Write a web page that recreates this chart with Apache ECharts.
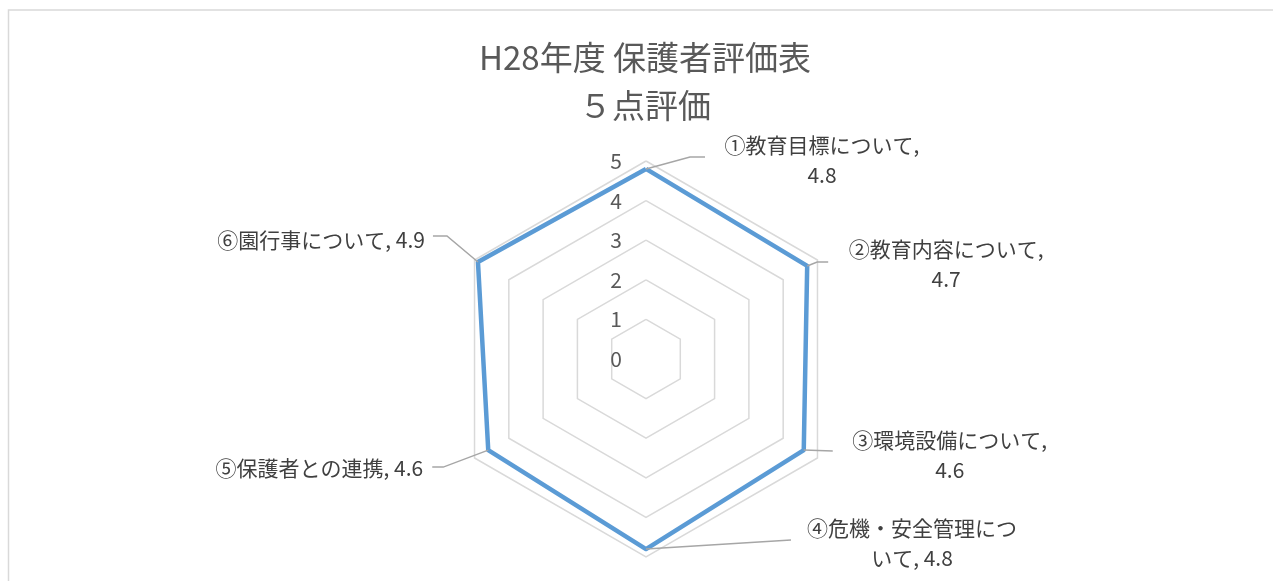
<!DOCTYPE html>
<html>
<head>
<meta charset="utf-8">
<script src="https://cdn.jsdelivr.net/npm/echarts@6/dist/echarts.min.js"></script>
<style>
  html, body { margin: 0; padding: 0; background: #fff; }
  #main { width: 1273px; height: 581px; }
</style>
</head>
<body>
<div id="main"></div>
<script>
// 評価項目と平均点
var categories = ['①教育目標について', '②教育内容について', '③環境設備について', '④危機・安全管理について', '⑤保護者との連携', '⑥園行事について'];
var scores = [4.8, 4.7, 4.6, 4.8, 4.6, 4.9];
var maxScore = 5;
var titleLines = ['H28年度 保護者評価表', '５点評価'];

// ECharts のレーダーは反時計回りなので、時計回りに見えるよう並べ替え
var order = [0, 5, 4, 3, 2, 1];

// ラベルの配置（頂点からのずらし量）
var labelLayout = [
  { wrap: 'after', line: [[44, -12], [59, -12]], pos: [176, -9], align: 'center' },
  { wrap: 'after', line: [[10, -4], [21, -4]], pos: [139, -1.5], align: 'center' },
  { wrap: 'after', line: [[29, 1]], pos: [146, 5], align: 'center' },
  { wrap: 10, line: [[145, -9]], pos: [266, -6.5], align: 'center' },
  { wrap: null, line: [[-45, 17], [-56, 17]], pos: [-65, 18], align: 'right' },
  { wrap: null, line: [[-31, -26], [-45, -26]], pos: [-53, -22], align: 'right' }
];

var FONT = '"Noto Sans CJK JP", "Noto Sans", sans-serif';
var chart = echarts.init(document.getElementById('main'));

function labelText(i) {
  var name = categories[i], v = scores[i].toFixed(1), w = labelLayout[i].wrap;
  if (w === 'after') return name + ',\n' + v;
  if (typeof w === 'number') {
    var full = name + ', ' + v;
    return full.slice(0, w) + '\n' + full.slice(w);
  }
  return name + ', ' + v;
}

chart.setOption({
  animation: false,
  radar: {
    center: [646, 359],
    radius: 198,
    startAngle: 90,
    shape: 'polygon',
    splitNumber: 5,
    axisName: { show: false },
    axisLine: { show: false },
    axisTick: { show: false },
    axisLabel: { show: false },
    splitArea: { show: false },
    splitLine: { lineStyle: { color: '#d9d9d9', width: 1.5 } },
    indicator: order.map(function (k, i) {
      var ind = { name: categories[k], min: 0, max: maxScore };
      if (i === 0) {
        ind.axisLabel = { show: true, margin: 24, color: '#595959', fontSize: 21, fontFamily: FONT };
      }
      return ind;
    })
  },
  series: [{
    type: 'radar',
    symbol: 'none',
    lineStyle: { color: '#5b9bd5', width: 4.5 },
    data: [{ value: order.map(function (k) { return scores[k]; }), name: '平均' }]
  }]
});

// 頂点の位置をレーダー座標系から求めてラベルと引き出し線を置く
var radar = chart.getModel().getComponent('radar').coordinateSystem;
var graphics = [
  {
    type: 'rect', silent: true,
    shape: { x: 8.5, y: 10, width: 1300, height: 620 },
    style: { fill: null, stroke: '#d9d9d9', lineWidth: 1.5 }
  },
  {
    type: 'text', silent: true,
    style: {
      text: titleLines.join('\n'), x: 645, y: 81,
      align: 'center', verticalAlign: 'middle', lineHeight: 48,
      fill: '#595959', fontSize: 33, fontFamily: FONT
    }
  }
];
categories.forEach(function (c, k) {
  var p = radar.dataToPoint(scores[k], order.indexOf(k));
  var lay = labelLayout[k];
  var pts = [[p[0], p[1]]].concat(lay.line.map(function (o) { return [p[0] + o[0], p[1] + o[1]]; }));
  graphics.push({
    type: 'polyline', silent: true, z: 10,
    shape: { points: pts },
    style: { stroke: '#a6a6a6', lineWidth: 1.5, fill: null }
  });
  graphics.push({
    type: 'text', silent: true, z: 10,
    style: {
      text: labelText(k), x: p[0] + lay.pos[0], y: p[1] + lay.pos[1],
      align: lay.align, verticalAlign: 'middle', lineHeight: 30,
      fill: '#404040', fontSize: 21, fontFamily: FONT
    }
  });
});
chart.setOption({ graphic: graphics });
</script>
</body>
</html>
